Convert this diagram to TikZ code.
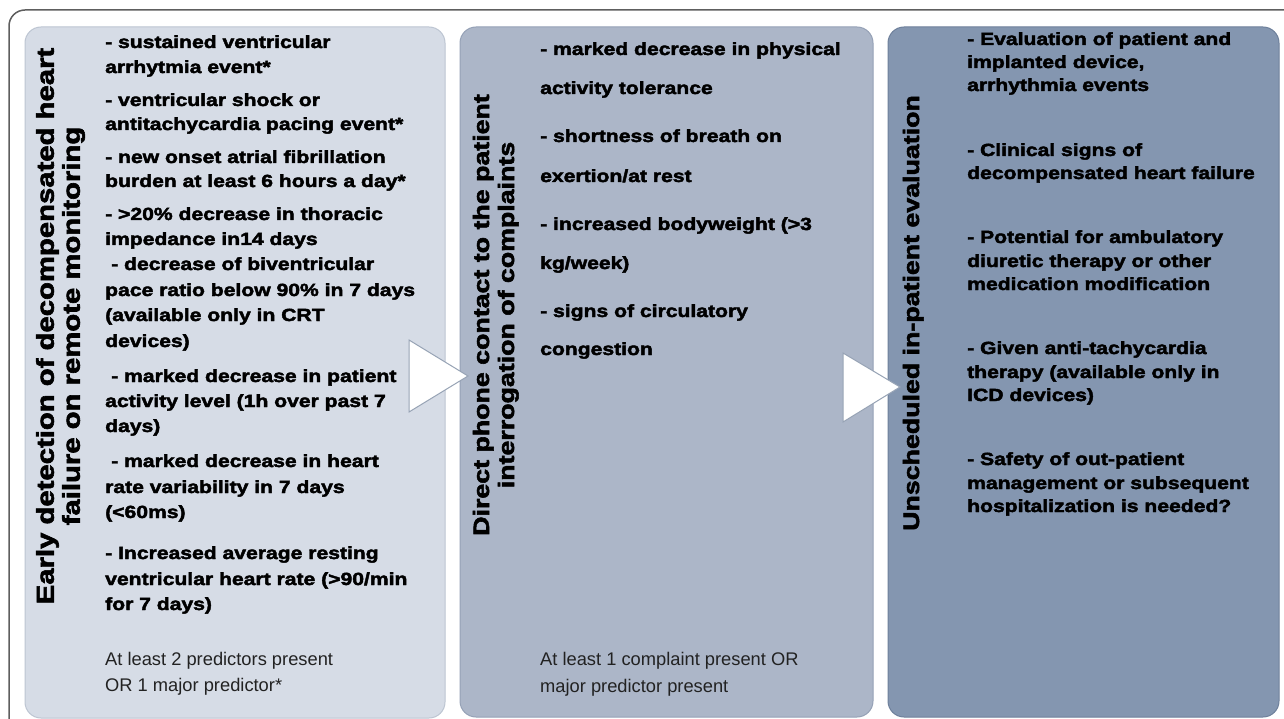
\documentclass[tikz,border=0pt]{standalone}
\usepackage{fontspec}
\setmainfont{Liberation Sans}
\newfontfamily\blackfont{Liberation Sans}[FakeStretch=1.2, BoldFeatures={FakeBold=2.5}]
\newfontfamily\plainfont{Liberation Sans}
\definecolor{frame}{HTML}{5E5E5E}
\definecolor{boxA}{HTML}{D6DCE6}
\definecolor{boxAedge}{HTML}{BDC5D2}
\definecolor{boxB}{HTML}{ACB6C8}
\definecolor{boxBedge}{HTML}{95A1B6}
\definecolor{boxC}{HTML}{8496B0}
\definecolor{boxCedge}{HTML}{6E809B}
\definecolor{arrowedge}{HTML}{97A3B5}
\definecolor{foottext}{HTML}{222222}
\tikzset{
  panel/.style={rounded corners=16pt, line width=1pt},
  bodytext/.style={anchor=base west, inner sep=0pt, font=\fontsize{17.6}{20}\blackfont\bfseries, text=black},
  foot/.style={anchor=base west, inner sep=0pt, font=\fontsize{18.3}{22}\plainfont, text=foottext},
  ttl/.style={rotate=90, anchor=center, inner sep=0pt, text height=16pt, text depth=0pt,
              font=\fontsize{22.3}{25}\blackfont\bfseries, text=black},
  bigttl/.style={ttl, text height=17.5pt, font=\fontsize{24.4}{27}\blackfont\bfseries},
  flowarrow/.style={fill=white, draw=arrowedge, line width=1pt, line join=miter}
}
\begin{document}
\begin{tikzpicture}[x=1pt, y=-1pt]
\clip (0,0) rectangle (1284,719);
\fill[white] (0,0) rectangle (1284,719);
% outer frame
\draw[frame, line width=1.5pt, rounded corners=16pt] (9,740) -- (9,10) -- (1300,10);
% panels
\draw[panel, fill=boxA, draw=boxAedge] (25,27) rectangle (445,718);
\draw[panel, fill=boxB, draw=boxBedge] (460,27) rectangle (873,717);
\draw[panel, fill=boxC, draw=boxCedge] (888,27) rectangle (1279,717);
% titles
\node[bigttl] (t1a) at (45,326) {Early detection of decompensated heart};
\node[bigttl] (t1b) at (71,326) {failure on remote monitoring};
\node[ttl] (t2a) at (481,315) {Direct phone contact to the patient};
\node[ttl] (t2b) at (506,315) {interrogation of complaints};
\node[ttl] (t3a) at (911,313) {Unscheduled in-patient evaluation};
% panel 1 text
\foreach \yy/\xx/\tt [count=\i] in {
  48/105/{- sustained ventricular},
  73/105/{arrhytmia event*},
  106/105/{- ventricular shock or},
  130/105/{antitachycardia pacing event*},
  163/105/{- new onset atrial fibrillation},
  187/105/{burden at least 6 hours a day*},
  220/105/{- >20\% decrease in thoracic},
  245/105/{impedance in14 days},
  270/111/{- decrease of biventricular},
  296/105/{pace ratio below 90\% in 7 days},
  321/105/{(available only in CRT},
  347/105/{devices)},
  382/111/{- marked decrease in patient},
  407/105/{activity level (1h over past 7},
  432/105/{days)},
  467/111/{- marked decrease in heart},
  493/105/{rate variability in 7 days},
  518/105/{(<60ms)},
  559/105/{- Increased average resting},
  585/105/{ventricular heart rate (>90/min},
  610/105/{for 7 days)}}
  \node[bodytext] (p1l\i) at (\xx,\yy) {\tt};
\node[foot] (f1a) at (105,665) {At least 2 predictors present};
\node[foot] (f1b) at (105,691) {OR 1 major predictor*};
% panel 2 text
\foreach \yy/\tt [count=\i] in {
  55/{- marked decrease in physical},
  94/{activity tolerance},
  142/{- shortness of breath on},
  182/{exertion/at rest},
  230/{- increased bodyweight (>3},
  269/{kg/week)},
  317/{- signs of circulatory},
  355/{congestion}}
  \node[bodytext] (p2l\i) at (540,\yy) {\tt};
\node[foot] (f2a) at (540,665) {At least 1 complaint present OR};
\node[foot] (f2b) at (540,692) {major predictor present};
% panel 3 text
\foreach \yy/\tt [count=\i] in {
  45/{- Evaluation of patient and},
  68/{implanted device,},
  91/{arrhythmia events},
  156/{- Clinical signs of},
  179/{decompensated heart failure},
  243/{- Potential for ambulatory},
  267/{diuretic therapy or other},
  290/{medication modification},
  354/{- Given anti-tachycardia},
  378/{therapy (available only in},
  401/{ICD devices)},
  465/{- Safety of out-patient},
  489/{management or subsequent},
  512/{hospitalization is needed?}}
  \node[bodytext] (p3l\i) at (967,\yy) {\tt};
% arrows
\draw[flowarrow] (409,340) -- (409,412) -- (468,376) -- cycle;
\draw[flowarrow] (843,353) -- (843,422) -- (900,387) -- cycle;
\end{tikzpicture}
\end{document}
